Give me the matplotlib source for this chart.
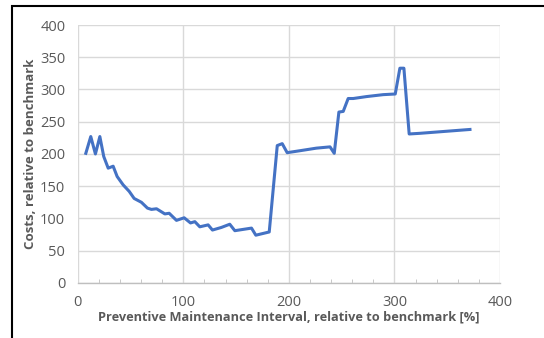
import matplotlib.pyplot as plt
from matplotlib.patches import Rectangle
from matplotlib.ticker import MultipleLocator

# Data
interval = [7.6, 12.3, 16.7, 20.9, 24.6, 28.8, 33.5, 37.3, 43.0, 48.7, 53.4,
            60.3, 66.0, 69.8, 74.6, 82.5, 86.6, 93.5, 100.8, 106.8, 110.9,
            115.6, 123.5, 127.6, 136.0, 144.0, 148.8, 164.6, 168.7, 181.4,
            189.0, 193.7, 198.4, 210.4, 226.0, 239.0, 243.0, 247.4, 251.5,
            256.2, 261.0, 273.6, 289.4, 300.8, 305.2, 309.0, 314.0, 324.0,
            371.6]
costs = [201, 227, 200, 227, 196, 178, 181, 165, 152, 142, 131,
         125, 116, 114, 115, 107, 108, 97, 101, 93, 95,
         87, 90, 82, 86, 91, 81, 85, 74, 79,
         213, 216, 202, 205, 209, 211, 201, 265, 266,
         286, 286, 289, 292, 293, 333, 333, 231, 232,
         238]

text_color = "#595959"
grid_color = "#D9D9D9"

plt.rcParams["font.family"] = ["Open Sans", "DejaVu Sans"]

fig = plt.figure(figsize=(5.44, 3.38), dpi=100)
ax = fig.add_axes([0.143, 0.163, 0.776, 0.763])

ax.plot(interval, costs, color="#4472C4", linewidth=2.2)

ax.set_xlim(0, 400)
ax.set_ylim(0, 400)
ax.xaxis.set_major_locator(MultipleLocator(100))
ax.xaxis.set_minor_locator(MultipleLocator(20))
ax.yaxis.set_major_locator(MultipleLocator(50))

ax.grid(True, which="major", color=grid_color, linewidth=1)
ax.set_axisbelow(True)
for side in ["top", "right", "left"]:
    ax.spines[side].set_visible(False)
ax.spines["bottom"].set_color("#BFBFBF")
ax.spines["bottom"].set_linewidth(1)

ax.tick_params(axis="y", length=0, labelsize=10.5, labelcolor=text_color, pad=9)
ax.tick_params(axis="x", which="major", length=0, labelsize=10.5,
               labelcolor=text_color, pad=9)
ax.tick_params(axis="x", which="minor", direction="in", length=3,
               color="#BFBFBF")

ax.set_xlabel("Preventive Maintenance Interval, relative to benchmark [%]",
              fontsize=9.2, fontweight="bold", color=text_color, labelpad=0)
ax.set_ylabel("Costs, relative to benchmark", fontsize=9.5,
              fontweight="bold", color=text_color, labelpad=2)

# outer frame of the pasted figure
fig.patches.append(Rectangle((12 / 544, -0.2), 1.2, 1.2 - 6 / 338,
                             transform=fig.transFigure, fill=False,
                             edgecolor="black", linewidth=1.5))

fig.savefig("out.png", dpi=100)
